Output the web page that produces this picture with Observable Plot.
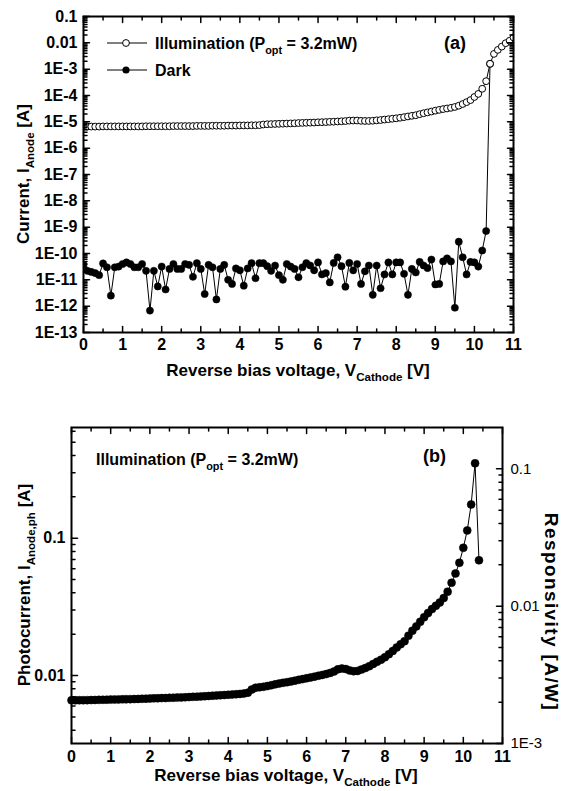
<!DOCTYPE html>
<html><head><meta charset="utf-8">
<script src="https://cdn.jsdelivr.net/npm/d3@7"></script>
<script src="https://cdn.jsdelivr.net/npm/@observablehq/plot@0.6"></script>
<style>
body{margin:0;background:#fff;}
#chart{position:relative;width:565px;height:791px;overflow:hidden;background:#fff;}
#chart svg{display:block;}
</style></head><body><div id="chart"></div>
<script>
// ---------- data ----------
const voltage = [0,0.1,0.2,0.3,0.4,0.5,0.6,0.7,0.8,0.9,1,1.1,1.2,1.3,1.4,1.5,1.6,1.7,1.8,1.9,2,2.1,2.2,2.3,2.4,2.5,2.6,2.7,2.8,2.9,3,3.1,3.2,3.3,3.4,3.5,3.6,3.7,3.8,3.9,4,4.1,4.2,4.3,4.4,4.5,4.6,4.7,4.8,4.9,5,5.1,5.2,5.3,5.4,5.5,5.6,5.7,5.8,5.9,6,6.1,6.2,6.3,6.4,6.5,6.6,6.7,6.8,6.9,7,7.1,7.2,7.3,7.4,7.5,7.6,7.7,7.8,7.9,8,8.1,8.2,8.3,8.4,8.5,8.6,8.7,8.8,8.9,9,9.1,9.2,9.3,9.4,9.5,9.6,9.7,9.8,9.9,10,10.1,10.2,10.3,10.4,10.5,10.6,10.7,10.8,10.9,11];

// (a) anode current under illumination [A]
const illumCurrent = [
6.6e-6,6.6e-6,6.6e-6,6.6e-6,6.6e-6,6.7e-6,6.7e-6,6.7e-6,6.7e-6,6.7e-6,
6.7e-6,6.7e-6,6.7e-6,6.7e-6,6.7e-6,6.7e-6,6.8e-6,6.8e-6,6.8e-6,6.8e-6,
6.8e-6,6.8e-6,6.8e-6,6.9e-6,6.9e-6,6.9e-6,6.9e-6,6.9e-6,6.9e-6,7.0e-6,
7.0e-6,7.0e-6,7.0e-6,7.1e-6,7.1e-6,7.1e-6,7.1e-6,7.2e-6,7.2e-6,7.2e-6,
7.3e-6,7.3e-6,7.3e-6,7.4e-6,7.4e-6,7.5e-6,7.9e-6,8.1e-6,8.2e-6,8.3e-6,
8.4e-6,8.5e-6,8.6e-6,8.7e-6,8.8e-6,9.0e-6,9.1e-6,9.2e-6,9.3e-6,9.4e-6,
9.6e-6,9.7e-6,9.8e-6,1.0e-5,1.01e-5,1.03e-5,1.05e-5,1.07e-5,1.11e-5,1.12e-5,
1.12e-5,1.09e-5,1.08e-5,1.08e-5,1.1e-5,1.14e-5,1.17e-5,1.22e-5,1.26e-5,1.31e-5,
1.36e-5,1.43e-5,1.51e-5,1.6e-5,1.69e-5,1.78e-5,1.95e-5,2.12e-5,2.28e-5,2.46e-5,
2.66e-5,2.85e-5,3.05e-5,3.22e-5,3.4e-5,3.67e-5,4.1e-5,4.75e-5,5.6e-5,6.7e-5,
8.8e-5,1.15e-4,1.8e-4,3.5e-4,1.6e-3,3.8e-3,5.4e-3,7.2e-3,9.7e-3,1.2e-2,
1.6e-2];

// (a) dark anode current [A]
const darkCurrent = [
3.8e-11,2.2e-11,2.0e-11,1.8e-11,1.5e-11,4.2e-11,3.0e-11,2.5e-12,3.0e-11,3.2e-11,
4.0e-11,4.6e-11,4.0e-11,3.0e-11,3.0e-11,4.0e-11,2.2e-11,6.8e-13,2.2e-11,5.6e-12,
3.2e-11,4.3e-12,2.6e-11,4.0e-11,2.6e-11,2.6e-11,4.0e-11,3.7e-11,1.3e-11,4.3e-11,
2.6e-11,2.9e-12,3.7e-11,3.0e-11,1.8e-12,2.6e-11,3.7e-11,1.0e-11,7.0e-12,2.7e-11,
2.3e-11,6.0e-12,2.7e-11,4.3e-11,1.15e-11,4.3e-11,4.3e-11,3.3e-11,2.2e-11,3.5e-11,
1.5e-11,1.0e-11,4.0e-11,3.2e-11,2.6e-11,1.25e-11,3.0e-11,4.3e-11,3.5e-11,2.3e-11,
4.6e-11,1.6e-11,1.8e-11,8.0e-12,4.4e-11,7.2e-11,3.3e-11,5.5e-12,4.4e-11,2.3e-11,
4.0e-11,7.0e-12,2.1e-11,3.5e-11,2.7e-12,3.5e-11,4.8e-12,1.6e-11,4.6e-11,1.6e-11,
4.6e-11,4.6e-11,1.7e-11,2.7e-12,2.6e-11,1.9e-11,4.8e-11,3.5e-11,2.8e-11,5.9e-11,
6.7e-12,7.0e-12,5.0e-11,6.5e-11,5.0e-11,8.7e-13,2.8e-10,7.2e-11,1.6e-11,4.8e-11,
4.6e-11,3.2e-11,1.3e-10,7.1e-10,1.6e-3];

// (b) photocurrent (left axis units)
const photoCurrent = [
0.00660,0.00660,0.00661,0.00661,0.00662,0.00663,0.00664,0.00665,0.00666,0.00667,
0.00668,0.00669,0.00670,0.00671,0.00672,0.00673,0.00674,0.00676,0.00677,0.00679,
0.00680,0.00682,0.00683,0.00685,0.00686,0.00688,0.00690,0.00692,0.00693,0.00695,
0.00697,0.00700,0.00702,0.00705,0.00707,0.00710,0.00713,0.00716,0.00718,0.00721,
0.00724,0.00727,0.00731,0.00735,0.00740,0.00750,0.00790,0.00815,0.00822,0.00828,
0.00838,0.00850,0.00863,0.00875,0.00885,0.00895,0.00905,0.00918,0.00930,0.00942,
0.00955,0.00968,0.00982,0.00996,0.01010,0.01025,0.01045,0.01070,0.01110,0.01125,
0.01115,0.01090,0.01075,0.01080,0.01105,0.01135,0.01170,0.01215,0.01260,0.01305,
0.01360,0.01430,0.01510,0.01600,0.01690,0.01780,0.01950,0.02120,0.02280,0.02460,
0.02660,0.02850,0.03050,0.03220,0.03400,0.03670,0.04080,0.04740,0.05540,0.06620,
0.08510,0.11400,0.17600,0.35100,0.06900];

const pOpt = 3.2; // mW, ratio between left (photocurrent) and right (responsivity) axes

// ticks & labels
const xTicks = [0,1,2,3,4,5,6,7,8,9,10,11];
const xMinorTicks = [0.5,1.5,2.5,3.5,4.5,5.5,6.5,7.5,8.5,9.5,10.5];
const yTicksA = [1e-13,1e-12,1e-11,1e-10,1e-9,1e-8,1e-7,1e-6,1e-5,1e-4,1e-3,0.01,0.1];
const yTickLabelsA = ["1E-13","1E-12","1E-11","1E-10","1E-9","1E-8","1E-7","1E-6","1E-5","1E-4","1E-3","0.01","0.1"];
const yTicksB = [0.01, 0.1];
const yTickLabelsB = ["0.01", "0.1"];
const respTicks = [1e-3, 0.01, 0.1];
const respTickLabels = ["1E-3", "0.01", "0.1"];

// ---------- helpers ----------
const font = "'Liberation Sans', Arial, Helvetica, sans-serif";
const minorLog = (lo, hi) => {
  const out = [];
  for (let e = Math.floor(Math.log10(lo)); e <= Math.ceil(Math.log10(hi)); e++)
    for (let k = 2; k <= 9; k++) { const v = k * Math.pow(10, e); if (v > lo && v < hi) out.push(v); }
  return out;
};
const tickShape = {draw(ctx, l) { ctx.moveTo(0, 0); ctx.lineTo(0, -l); }};
const rot = {bottom: 0, top: 180, left: 90, right: 270};
function ticks(values, side, len, transform = d => d) {
  const ch = (side === "bottom" || side === "top") ? {x: transform} : {y: transform};
  return Plot.vector(values, {...ch, frameAnchor: side, length: len, rotate: rot[side],
    anchor: "start", shape: tickShape, stroke: "black", strokeWidth: 1.5});
}
function richText(svg, x, y, parts, {size = 17, weight = "bold", anchor = "middle", rotate = 0, spacing = 0} = {}) {
  const t = d3.select(svg).append("text")
    .attr("transform", `translate(${x},${y}) rotate(${rotate})`)
    .attr("text-anchor", anchor).attr("font-size", size).attr("font-weight", weight)
    .attr("font-family", font).attr("fill", "black").style("white-space", "pre")
    .attr("letter-spacing", spacing);
  let inSub = false;
  for (const [s, sub] of parts) {
    const ts = t.append("tspan").text(s);
    if (sub) { ts.attr("font-size", size * 0.68); if (!inSub) ts.attr("dy", size * 0.32); inSub = true; }
    else if (inSub) { ts.attr("dy", -size * 0.32); inSub = false; }
  }
  return t;
}
const style = {fontFamily: font, fontSize: "16px", fontWeight: "bold", color: "black", background: "white"};

// ---------- panel (a) ----------
const illumRows = illumCurrent.map((v, i) => ({V: voltage[i], I: v}));
const darkRows = darkCurrent.map((v, i) => ({V: voltage[i], I: v}));
const minorA = minorLog(1e-13, 0.1);

const plotA = Plot.plot({
  width: 565, height: 390,
  marginTop: 16, marginLeft: 83, marginRight: 52, marginBottom: 58,
  style,
  x: {domain: [0, 11], axis: null},
  y: {type: "log", domain: [1e-13, 0.1], axis: null},
  marks: [
    Plot.line(darkRows, {x: "V", y: "I", stroke: "black", strokeWidth: 1, clip: true}),
    Plot.dot(darkRows, {x: "V", y: "I", r: 3.6, fill: "black", stroke: "black", strokeWidth: 0.5, clip: true}),
    Plot.line(illumRows, {x: "V", y: "I", stroke: "black", strokeWidth: 1, clip: true}),
    Plot.dot(illumRows, {x: "V", y: "I", r: 3.4, fill: "white", stroke: "black", strokeWidth: 1, clip: true}),
    ticks(xTicks, "bottom", 6), ticks(xMinorTicks, "bottom", 3.5),
    ticks(xTicks, "top", 6), ticks(xMinorTicks, "top", 3.5),
    ticks(yTicksA, "left", 6), ticks(minorA, "left", 3.5),
    ticks(yTicksA, "right", 6), ticks(minorA, "right", 3.5),
    Plot.text(xTicks, {x: d => d, frameAnchor: "bottom", dy: 6, lineAnchor: "top", text: d => String(d)}),
    Plot.text(yTicksA, {y: d => d, frameAnchor: "left", dx: -6, textAnchor: "end", text: (d, i) => yTickLabelsA[i]}),
    Plot.frame({stroke: "black", strokeWidth: 2})
  ]
});

// ---------- panel (b) ----------
const photoRows = photoCurrent.map((v, i) => ({V: voltage[i], I: v}));
const yDomainB = [1e-3 * pOpt, 0.2 * pOpt];
const minorB = minorLog(yDomainB[0], yDomainB[1]);
const minorR = minorLog(1e-3, 0.2);

const plotB = Plot.plot({
  width: 565, height: 401,
  marginTop: 37, marginLeft: 71, marginRight: 63, marginBottom: 48,
  style,
  x: {domain: [0, 11], axis: null},
  y: {type: "log", domain: yDomainB, axis: null},
  marks: [
    Plot.line(photoRows, {x: "V", y: "I", stroke: "black", strokeWidth: 1}),
    Plot.dot(photoRows, {x: "V", y: "I", r: 4, fill: "black", stroke: "black", strokeWidth: 0.5}),
    ticks(xTicks, "bottom", 6), ticks(xMinorTicks, "bottom", 3.5),
    ticks(xTicks, "top", 6), ticks(xMinorTicks, "top", 3.5),
    ticks(yTicksB, "left", 6), ticks(minorB, "left", 3.5),
    ticks(respTicks, "right", 6, d => d * pOpt), ticks(minorR, "right", 3.5, d => d * pOpt),
    Plot.text(xTicks, {x: d => d, frameAnchor: "bottom", dy: 7, lineAnchor: "top", text: d => String(d)}),
    Plot.text(yTicksB, {y: d => d, frameAnchor: "left", dx: -6, textAnchor: "end", text: (d, i) => yTickLabelsB[i]}),
    Plot.text(respTicks, {y: d => d * pOpt, frameAnchor: "right", dx: 8, textAnchor: "start",
      fontWeight: "normal", fontSize: 15, text: (d, i) => respTickLabels[i]}),
    Plot.frame({stroke: "black", strokeWidth: 2})
  ]
});

// ---------- titles, legends ----------
// (a)
richText(plotA, 298, 376, [["Reverse bias voltage, V"], ["Cathode", true], [" [V]"]]);
richText(plotA, 29, 174, [["Current, I"], ["Anode", true], [" [A]"]], {rotate: -90});
{
  const g = d3.select(plotA).append("g");
  g.append("line").attr("x1", 107).attr("x2", 147).attr("y1", 43).attr("y2", 43).attr("stroke", "black");
  g.append("circle").attr("cx", 126).attr("cy", 43).attr("r", 3.4).attr("fill", "white").attr("stroke", "black");
  g.append("line").attr("x1", 107).attr("x2", 147).attr("y1", 70).attr("y2", 70).attr("stroke", "black");
  g.append("circle").attr("cx", 126).attr("cy", 70).attr("r", 3.6).attr("fill", "black");
}
richText(plotA, 155, 49, [["Illumination (P"], ["opt", true], [" = 3.2mW)"]], {size: 16, anchor: "start"});
richText(plotA, 155, 76, [["Dark"]], {size: 16, anchor: "start"});
richText(plotA, 444, 49, [["(a)"]], {size: 18, anchor: "start"});

// (b)
richText(plotB, 286, 391, [["Reverse bias voltage, V"], ["Cathode", true], [" [V]"]]);
richText(plotB, 30, 195, [["Photocurrent, I"], ["Anode,ph", true], [" [A]"]], {rotate: -90});
richText(plotB, 545, 222, [["Responsivity [A/W]"]], {rotate: 90, size: 19, spacing: 1.4});
richText(plotB, 96, 75, [["Illumination (P"], ["opt", true], [" = 3.2mW)"]], {size: 16, anchor: "start"});
richText(plotB, 423, 72, [["(b)"]], {size: 18, anchor: "start"});

const chart = document.getElementById("chart");
chart.appendChild(plotA);
chart.appendChild(plotB);
</script></body></html>
